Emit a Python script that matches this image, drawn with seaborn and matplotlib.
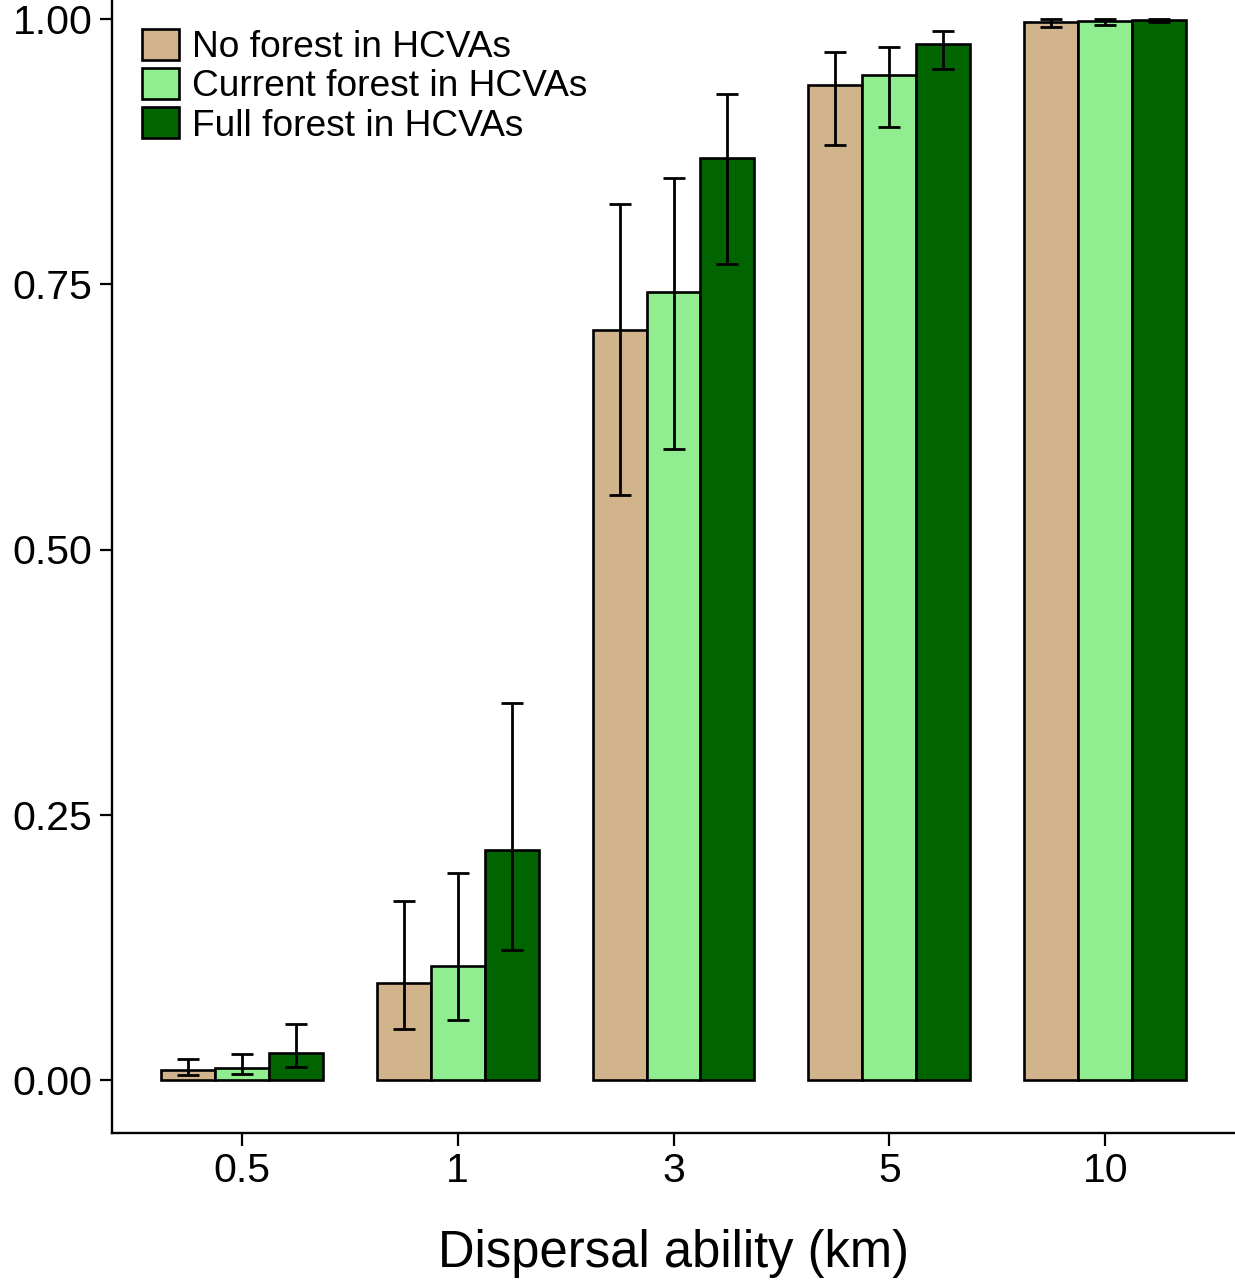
import matplotlib
matplotlib.use("Agg")
import matplotlib.pyplot as plt
from matplotlib.patches import Patch
import seaborn as sns
import pandas as pd
import numpy as np

# Dispersal distances and forest scenarios
distances = ["0.5", "1", "3", "5", "10"]
scenarios = ["No forest in HCVAs", "Current forest in HCVAs", "Full forest in HCVAs"]
colors = ["#D2B48C", "#90EE90", "#006400"]

# Mean proportion per scenario (one value per distance)
no_forest = [0.0095, 0.0914, 0.7069, 0.9378, 0.9975]
current_forest = [0.0116, 0.1074, 0.7427, 0.9475, 0.9981]
full_forest = [0.0257, 0.2168, 0.8690, 0.9767, 0.9994]

# Error bar limits
no_forest_lo = [0.0045, 0.0480, 0.5514, 0.8809, 0.9925]
no_forest_hi = [0.0200, 0.1687, 0.8256, 0.9686, 0.9997]
current_forest_lo = [0.0057, 0.0565, 0.5947, 0.8985, 0.9942]
current_forest_hi = [0.0245, 0.1950, 0.8501, 0.9739, 1.0000]
full_forest_lo = [0.0125, 0.1225, 0.7691, 0.9526, 0.9972]
full_forest_hi = [0.0525, 0.3553, 0.9293, 0.9890, 1.0000]

means = [no_forest, current_forest, full_forest]
lows = [no_forest_lo, current_forest_lo, full_forest_lo]
highs = [no_forest_hi, current_forest_hi, full_forest_hi]

rows = []
for s, m, lo, hi in zip(scenarios, means, lows, highs):
    for d, v, a, b in zip(distances, m, lo, hi):
        rows.append({"distance": d, "scenario": s, "value": v, "lo": a, "hi": b})
df = pd.DataFrame(rows)

sns.set_theme(style="ticks")
plt.rcParams["font.family"] = ["Liberation Sans", "DejaVu Sans"]
plt.rcParams["text.color"] = "black"
plt.rcParams["axes.labelcolor"] = "black"

fig = plt.figure(figsize=(12.35, 12.8), dpi=100)
ax = fig.add_axes([112 / 1235, 147 / 1280, 1123 / 1235, 1167 / 1280])

sns.barplot(data=df, x="distance", y="value", hue="scenario",
            order=distances, hue_order=scenarios, palette=colors,
            width=0.75, gap=0, errorbar=None, edgecolor="black",
            linewidth=1.9, saturation=1, ax=ax, legend=False)

# Error bars placed at the centre of each drawn bar
bars = [p for p in ax.patches if p.get_height() > 0]
bars = sorted(bars, key=lambda p: p.get_x())
rank = {**{d: i for i, d in enumerate(distances)}, **{s: i for i, s in enumerate(scenarios)}}
ordered = df.sort_values(by=["distance", "scenario"], key=lambda c: c.map(rank))
for p, (_, r) in zip(bars, ordered.iterrows()):
    xc = p.get_x() + p.get_width() / 2
    ax.errorbar(xc, r["value"],
                yerr=[[r["value"] - r["lo"]], [r["hi"] - r["value"]]],
                fmt="none", ecolor="black", elinewidth=2.0,
                capsize=7.8, capthick=2.0, zorder=5)

ax.set_xlim(-0.6, 4.6)
ax.set_ylim(-0.05, 1.05)
ax.set_yticks([0, 0.25, 0.5, 0.75, 1.0])
ax.set_yticklabels(["0.00", "0.25", "0.50", "0.75", "1.00"])
ax.tick_params(axis="both", labelsize=29.5, length=9, width=1.6, color="black",
               labelcolor="black", pad=5)
ax.set_xlabel("Dispersal ability (km)", fontsize=36.5, labelpad=28, color="black")
ax.set_ylabel("")
for side in ["top", "right"]:
    ax.spines[side].set_visible(False)
for side in ["left", "bottom"]:
    ax.spines[side].set_linewidth(1.7)
    ax.spines[side].set_color("black")

handles = [Patch(facecolor=c, edgecolor="black", linewidth=1.9) for c in colors]
ax.legend(handles, scenarios, loc="upper left", bbox_to_anchor=(0.027, 0.946),
          frameon=False, fontsize=26.7, handlelength=0.98, handleheight=0.9,
          handletextpad=0.35, labelspacing=0.08, borderaxespad=0, borderpad=0,
          labelcolor="black")

fig.savefig("out.png", dpi=100)
